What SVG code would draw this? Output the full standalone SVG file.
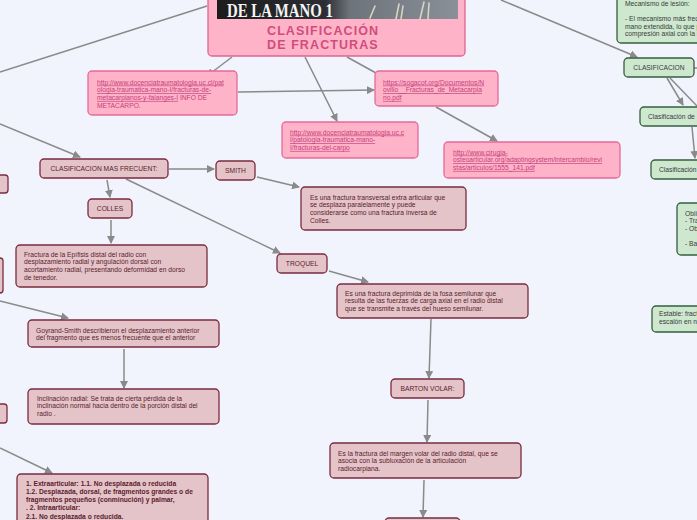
<svg xmlns="http://www.w3.org/2000/svg" width="697" height="520" viewBox="0 0 697 520">
<defs>
<marker id="ar" viewBox="0 0 8 8" refX="7" refY="4" markerWidth="8" markerHeight="8" markerUnits="userSpaceOnUse" orient="auto">
<path d="M0,0 L8,4 L0,8 z" fill="#8a8a8a"/>
</marker>
<linearGradient id="img" x1="0" y1="0" x2="1" y2="0">
<stop offset="0" stop-color="#1c1c1e"/>
<stop offset="0.45" stop-color="#2c2e33"/>
<stop offset="0.55" stop-color="#6d737b"/>
<stop offset="1" stop-color="#8a9098"/>
</linearGradient>
<style>
.bg{fill:#f2f4fd}
.c{stroke:#8a8a8a;stroke-width:1.5;fill:none}
.n{fill:#e5c4c9;stroke:#7a2b3f;stroke-width:1.3}
.p{fill:#ffb3c9;stroke:#e66a96;stroke-width:1.3}
.gr{fill:#cde8cf;stroke:#355f3c;stroke-width:1.3}
.t{font-family:"Liberation Sans",Arial,sans-serif;font-size:6.7px;fill:#5a1c2c}
.b{font-weight:bold}
.l{fill:#c4407a;text-decoration:underline}
.li{fill:#c4407a}
.g{fill:#3a3a3a}
.m{text-anchor:middle}
</style>
</defs>
<rect class="bg" x="0" y="0" width="697" height="520"/>

<g id="connectors">
<line class="c" x1="207" y1="6" x2="0" y2="72"/>
<line class="c" x1="0" y1="124" x2="80" y2="157" marker-end="url(#ar)"/>
<line class="c" x1="232" y1="57" x2="207" y2="76" marker-end="url(#ar)"/>
<line class="c" x1="305" y1="57" x2="337" y2="121" marker-end="url(#ar)"/>
<line class="c" x1="347" y1="57" x2="376" y2="73"/>
<line class="c" x1="238" y1="92" x2="374" y2="90" marker-end="url(#ar)"/>
<line class="c" x1="436" y1="107" x2="497" y2="141" marker-end="url(#ar)"/>
<line class="c" x1="501" y1="0" x2="637" y2="57" marker-end="url(#ar)"/>
<line class="c" x1="694" y1="68" x2="697" y2="68"/>
<line class="c" x1="667" y1="78" x2="683" y2="105" marker-end="url(#ar)"/>
<line class="c" x1="670" y1="78" x2="697" y2="106"/>
<line class="c" x1="692" y1="127" x2="695" y2="158" marker-end="url(#ar)"/>
<line class="c" x1="169" y1="169" x2="214" y2="169" marker-end="url(#ar)"/>
<line class="c" x1="257" y1="177" x2="299" y2="187" marker-end="url(#ar)"/>
<line class="c" x1="107" y1="180" x2="110" y2="197" marker-end="url(#ar)"/>
<line class="c" x1="111" y1="220" x2="111" y2="243" marker-end="url(#ar)"/>
<line class="c" x1="126" y1="179" x2="280" y2="253" marker-end="url(#ar)"/>
<line class="c" x1="329" y1="271" x2="368" y2="282" marker-end="url(#ar)"/>
<line class="c" x1="431" y1="319" x2="429" y2="378" marker-end="url(#ar)"/>
<line class="c" x1="428" y1="400" x2="427" y2="442" marker-end="url(#ar)"/>
<line class="c" x1="424" y1="480" x2="423" y2="517" marker-end="url(#ar)"/>
<line class="c" x1="0" y1="301" x2="68" y2="318" marker-end="url(#ar)"/>
<line class="c" x1="124" y1="349" x2="124" y2="388" marker-end="url(#ar)"/>
<line class="c" x1="0" y1="448" x2="52" y2="473" marker-end="url(#ar)"/>
</g>

<g id="central">
<rect class="p" x="208" y="-6" width="257" height="62" rx="4" style="stroke:#e0648f"/>
<rect x="217" y="-2" width="241" height="21" fill="url(#img)"/>
<g stroke="#d8d4c0" stroke-width="1.6" fill="none" stroke-linecap="round">
<path d="M370,18 L375,6"/>
<path d="M396,19 L399,4"/>
<path d="M401,19 L403,6"/>
<path d="M420,19 L424,2"/>
<path d="M428,19 L429,3"/>
</g>
<text x="227" y="16.5" textLength="106" lengthAdjust="spacingAndGlyphs" style="font-family:'Liberation Serif',serif;font-weight:bold;font-size:18px;fill:#f4f4f4">DE LA MANO  1</text>
<text x="267" y="35" style="font-family:'Liberation Sans',Arial,sans-serif;font-weight:bold;font-size:12.5px;fill:#d14c7c;letter-spacing:1.1px">CLASIFICACIÓN</text>
<text x="267" y="49" style="font-family:'Liberation Sans',Arial,sans-serif;font-weight:bold;font-size:12.5px;fill:#d14c7c;letter-spacing:1.1px">DE FRACTURAS</text>
</g>

<g id="link1">
<rect class="p" x="88" y="71" width="149" height="44" rx="4"/>
<text class="t" x="97" y="84.5"><tspan class="l">http://www.docenciatraumatologia.uc.cl/pat</tspan><tspan class="l" x="97" dy="7.7">ologia-traumatica-mano-I/fracturas-de-</tspan><tspan class="l" x="97" dy="7.7">metacarpianos-y-falanges-I</tspan><tspan class="li"> INFO DE</tspan><tspan class="li" x="97" dy="7.7">METACARPO.</tspan></text>
</g>

<g id="link2">
<rect class="p" x="375" y="71" width="123" height="35" rx="4"/>
<text class="t" x="383" y="84.5"><tspan class="l">https://sogacot.org/Documentos/N</tspan><tspan class="l" x="383" dy="7.7">ovillo__Fracturas_de_Metacarpia</tspan><tspan class="l" x="383" dy="7.7">no.pdf</tspan></text>
</g>

<g id="link3">
<rect class="p" x="282" y="122" width="136" height="36" rx="4"/>
<text class="t" x="290" y="134.5"><tspan class="l">http://www.docenciatraumatologia.uc.c</tspan><tspan class="l" x="290" dy="7.7">l/patologia-traumatica-mano-</tspan><tspan class="l" x="290" dy="7.7">I/fracturas-del-carpo</tspan></text>
</g>

<g id="link4">
<rect class="p" x="444" y="142" width="176" height="36" rx="4"/>
<text class="t" x="453" y="154.5"><tspan class="l">http://www.cirugia-</tspan><tspan class="l" x="453" dy="7.7">osteoarticular.org/adaptingsystem/intercambio/revi</tspan><tspan class="l" x="453" dy="7.7">stas/articulos/1555_141.pdf</tspan></text>
</g>

<g id="mecanismo">
<rect class="gr" x="617" y="-8" width="90" height="51" rx="4"/>
<text class="t g" x="625" y="6"><tspan>Mecanismo de lesión:</tspan><tspan x="625" dy="15">- El mecanismo más frecuente es la caída sobre la</tspan><tspan x="625" dy="7.7">mano extendida, lo que produce</tspan><tspan x="625" dy="7.7">compresión axial con la muñeca</tspan></text>
</g>

<g id="clasificacion">
<rect class="gr" x="624" y="58" width="70" height="19" rx="4"/>
<text class="t g m b" x="659" y="70" style="font-weight:normal">CLASIFICACION</text>
</g>

<g id="clasif-de">
<rect class="gr" x="640" y="107" width="70" height="19" rx="4"/>
<text class="t g" x="648" y="119">Clasificación de</text>
</g>

<g id="clasif2">
<rect class="gr" x="651" y="160" width="60" height="19" rx="4"/>
<text class="t g" x="659" y="172">Clasificación</text>
</g>

<g id="obl">
<rect class="gr" x="677" y="203" width="40" height="52" rx="4"/>
<text class="t g" x="685" y="215.5"><tspan>Oblicua</tspan><tspan x="685" dy="7.7">- Transversal</tspan><tspan x="685" dy="7.7">- Oblicua</tspan><tspan x="685" dy="15.4">- Basal</tspan></text>
</g>

<g id="estable">
<rect class="gr" x="652" y="306" width="60" height="26" rx="4"/>
<text class="t g" x="659" y="316"><tspan>Estable: fractura sin</tspan><tspan x="659" dy="7.7">escalón en nivel</tspan></text>
</g>

<g id="frecuent">
<rect class="n" x="40" y="159" width="128" height="19" rx="4"/>
<text class="t m" x="104" y="171">CLASIFICACION MAS FRECUENT:</text>
</g>

<g id="left1"><rect class="n" x="-10" y="175" width="18" height="18" rx="3"/></g>
<g id="left2"><rect class="n" x="-10" y="258" width="13" height="35" rx="3"/></g>
<g id="left3"><rect class="n" x="-10" y="404" width="17" height="19" rx="3"/></g>

<g id="smith">
<rect class="n" x="216" y="161" width="39" height="19" rx="4"/>
<text class="t m" x="235.5" y="173">SMITH</text>
</g>

<g id="smith-desc">
<rect class="n" x="301" y="187" width="165" height="43" rx="4"/>
<text class="t" x="310" y="199.5"><tspan>Es una fractura transversal extra articular que</tspan><tspan x="310" dy="7.9">se desplaza paralelamente y puede</tspan><tspan x="310" dy="7.9">considerarse como una fractura inversa de</tspan><tspan x="310" dy="7.9">Colles.</tspan></text>
</g>

<g id="colles">
<rect class="n" x="88" y="199" width="44" height="19" rx="4"/>
<text class="t m" x="110" y="211">COLLES</text>
</g>

<g id="colles-desc">
<rect class="n" x="16" y="245" width="191" height="42" rx="4"/>
<text class="t" x="24" y="256.5"><tspan>Fractura de la Epífisis distal del radio con</tspan><tspan x="24" dy="7.9">desplazamiento radial y angulación dorsal con</tspan><tspan x="24" dy="7.9">acortamiento radial, presentando deformidad en dorso</tspan><tspan x="24" dy="7.9">de tenedor.</tspan></text>
</g>

<g id="troquel">
<rect class="n" x="277" y="254" width="50" height="19" rx="4"/>
<text class="t m" x="302" y="266">TROQUEL</text>
</g>

<g id="troquel-desc">
<rect class="n" x="337" y="284" width="191" height="34" rx="4"/>
<text class="t" x="345" y="295.5"><tspan>Es una fractura deprimida de la fosa semilunar que</tspan><tspan x="345" dy="7.9">resulta de las fuerzas de carga axial en el radio distal</tspan><tspan x="345" dy="7.9">que se transmite a través del hueso semilunar.</tspan></text>
</g>

<g id="barton">
<rect class="n" x="391" y="379" width="73" height="19" rx="4"/>
<text class="t m" x="427.5" y="391">BARTON VOLAR:</text>
</g>

<g id="barton-desc">
<rect class="n" x="330" y="443" width="191" height="35" rx="4"/>
<text class="t" x="338" y="455.5"><tspan>Es la fractura del margen volar del radio distal, que se</tspan><tspan x="338" dy="7.9">asocia con la subluxación de la articulación</tspan><tspan x="338" dy="7.9">radiocarpiana.</tspan></text>
</g>

<g id="bottom-node">
<rect class="n" x="385" y="518" width="75" height="19" rx="4"/>
</g>

<g id="goyrand">
<rect class="n" x="28" y="320" width="191" height="27" rx="4"/>
<text class="t" x="36" y="332.5"><tspan>Goyrand-Smith describieron el desplazamiento anterior</tspan><tspan x="36" dy="7.9">del fragmento que es menos frecuente que el anterior</tspan></text>
</g>

<g id="inclinacion">
<rect class="n" x="28" y="389" width="191" height="35" rx="4"/>
<text class="t" x="37" y="400.5"><tspan>Inclinación radial: Se trata de cierta pérdida de la</tspan><tspan x="37" dy="7.9">inclinación normal hacia dentro de la porción distal del</tspan><tspan x="37" dy="7.9">radio .</tspan></text>
</g>

<g id="extraarticular">
<rect class="n" x="17" y="474" width="191" height="56" rx="4"/>
<text class="t b" x="26" y="485.5"><tspan>1. Extraarticular: 1.1. No desplazada o reducida</tspan><tspan x="26" dy="8.3">1.2. Desplazada, dorsal, de fragmentos grandes o de</tspan><tspan x="26" dy="8.3">fragmentos pequeños (conminución) y palmar,</tspan><tspan x="26" dy="8.3">. 2. Intraarticular:</tspan><tspan x="26" dy="8.3">2.1. No desplazada o reducida.</tspan></text>
</g>
</svg>
